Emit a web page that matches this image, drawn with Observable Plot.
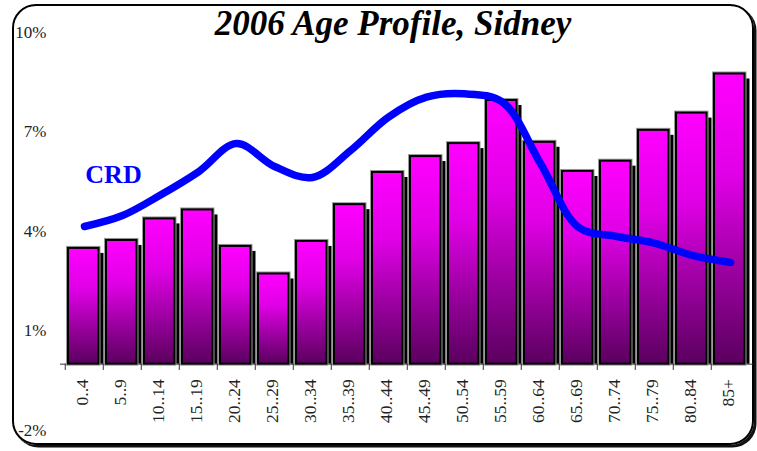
<!DOCTYPE html>
<html>
<head>
<meta charset="utf-8">
<script src="https://cdn.jsdelivr.net/npm/d3@7"></script>
<script src="https://cdn.jsdelivr.net/npm/@observablehq/plot@0.6"></script>
<style>
  html, body { margin: 0; padding: 0; background: #fff; }
  #wrap { position: relative; width: 757px; height: 451px; overflow: hidden; }
  #frame { position: absolute; left: 12px; top: 4px; width: 738px; height: 437px;
           border: 2.5px solid #000; border-radius: 24px; box-shadow: 2.5px 2.5px 0 #111; }
  #title { position: absolute; left: 0; width: 786px; top: 6px; text-align: center;
           font-family: "Liberation Serif", "Times New Roman", serif; font-weight: bold;
           font-style: italic; font-size: 35px; line-height: 35px; color: #000; }
  #chart { position: absolute; left: 0; top: 0; }
  #chart svg { background: transparent; overflow: visible; }
</style>
</head>
<body>
<div id="wrap">
  <div id="frame"></div>
  <div id="chart"></div>
  <div id="title">2006 Age Profile, Sidney</div>
</div>
<script>
const categories = ["0..4","5..9","10..14","15..19","20..24","25..29","30..34","35..39","40..44",
  "45..49","50..54","55..59","60..64","65..69","70..74","75..79","80..84","85+"];
const sidneyValues = [3.49,3.73,4.38,4.65,3.55,2.72,3.70,4.81,5.78,6.26,6.65,7.95,6.69,5.81,6.12,7.05,7.57,8.75];
const crdValues = [4.15,4.48,5.10,5.80,6.65,5.96,5.63,6.44,7.45,8.05,8.15,7.90,6.05,4.13,3.85,3.65,3.28,3.07];
const yTicks = [-2,1,4,7,10];
const seriesLabel = "CRD";

const bars = categories.map((c, i) => ({category: c, value: sidneyValues[i]}));
const crd = categories.map((c, i) => ({category: c, value: crdValues[i]}));

const W = 757, H = 451, mL = 60, mR = 4, mT = 32, mB = 21;
const bw = (W - mL - mR) / categories.length;

const defs = () => {
  const d = d3.create("svg:defs");
  const g = d.append("linearGradient").attr("id", "barGrad")
    .attr("x1", 0).attr("y1", 0).attr("x2", 0).attr("y2", 1);
  g.append("stop").attr("offset", "0%").attr("stop-color", "#ff00ff");
  g.append("stop").attr("offset", "35%").attr("stop-color", "#e000e6");
  g.append("stop").attr("offset", "100%").attr("stop-color", "#5a005e");
  return d.node();
};

const plot = Plot.plot({
  width: W, height: H,
  marginLeft: mL, marginRight: mR, marginTop: mT, marginBottom: mB,
  style: {fontFamily: "'Liberation Serif', 'Times New Roman', serif", background: "transparent"},
  x: {type: "band", domain: categories, paddingInner: 0, paddingOuter: 0, axis: null},
  y: {domain: [-2, 10], axis: null},
  marks: [
    defs,
    Plot.ruleY([0], {stroke: "#333", strokeWidth: 1}),
    Plot.ruleX(categories, {x: d => d, y1: 0, y2: -0.19, dx: -bw / 2, stroke: "#333", strokeWidth: 1}),
    // shadows
    Plot.barY(bars, {x: "category", y: "value", fill: "#000", insetLeft: 3, insetRight: 4.5, insetTop: 5, dx: 5}),
    // halo
    Plot.barY(bars, {x: "category", y: "value", fill: "none", stroke: "#9a9a9a", strokeWidth: 4, insetLeft: 3, insetRight: 4.5}),
    // bars
    Plot.barY(bars, {x: "category", y: "value", fill: "url(#barGrad)", stroke: "#000", strokeWidth: 2, insetLeft: 3, insetRight: 4.5}),
    // CRD line
    Plot.line(crd, {x: "category", y: "value", stroke: "#0000ff", strokeWidth: 7.5, curve: "catmull-rom",
      strokeLinecap: "round", strokeLinejoin: "round"}),
    Plot.text([seriesLabel], {x: () => "5..9", y: () => 5.72, text: d => d, dx: -9, fill: "#0000ff",
      fontSize: 26, fontWeight: "bold", textAnchor: "middle", lineAnchor: "middle"}),
    // x labels
    Plot.text(categories, {x: d => d, y: () => 0, text: d => d, rotate: -90, textAnchor: "end",
      lineAnchor: "middle", dy: 15, dx: -2, fontSize: 17.5, fill: "#222"}),
    // y labels
    Plot.text(yTicks, {frameAnchor: "left", y: d => d, text: d => d + "%", textAnchor: "end",
      lineAnchor: "middle", dx: -14, fontSize: 17, fill: "#222"})
  ]
});
document.getElementById("chart").appendChild(plot);
</script>
</body>
</html>
